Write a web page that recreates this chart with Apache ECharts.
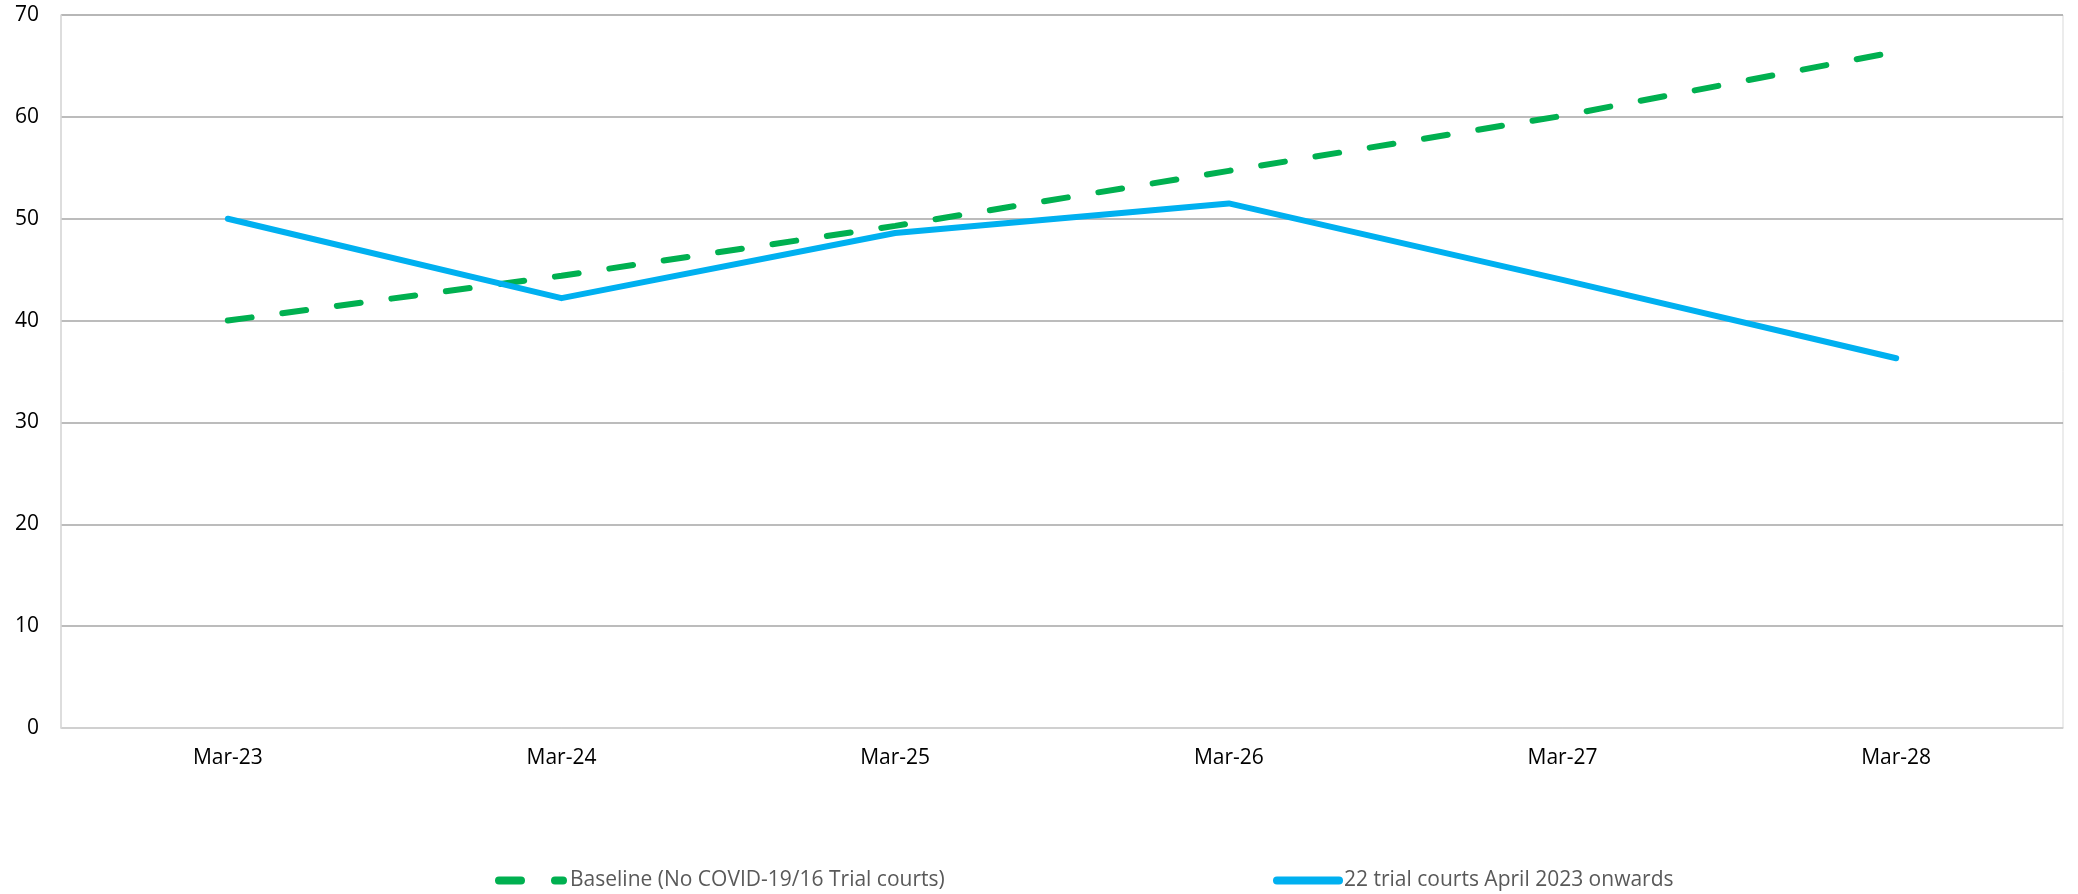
<!DOCTYPE html>
<html>
<head>
<meta charset="utf-8">
<script src="https://cdn.jsdelivr.net/npm/echarts@6/dist/echarts.min.js"></script>
<style>
html,body{margin:0;padding:0;background:#fff;}
#main{width:2078px;height:894px;}
</style>
</head>
<body>
<div id="main"></div>
<script>
const categories = ['Mar-23','Mar-24','Mar-25','Mar-26','Mar-27','Mar-28'];
const baselineName = 'Baseline (No COVID-19/16 Trial courts)';
const trialName = '22 trial courts April 2023 onwards';
const baselineValues = [40.0, 44.4, 49.3, 54.7, 60.1, 66.4];
const trialValues = [50.0, 42.2, 48.6, 51.5, 44.0, 36.3];
const yTicks = {min: 0, max: 70, interval: 10};

const FONT = '"Open Sans", "Liberation Sans", sans-serif';
const dashIcon = 'path://M4,0 L26,0 A4,4 0 0 1 26,8 L4,8 A4,4 0 0 1 4,0 Z M60,0 L68,0 A4,4 0 0 1 68,8 L60,8 A4,4 0 0 1 60,0 Z';
const solidIcon = 'path://M4,0 L66,0 A4,4 0 0 1 66,8 L4,8 A4,4 0 0 1 4,0 Z';
const chart = echarts.init(document.getElementById('main'), null, {renderer: 'canvas'});
chart.setOption({
  animation: false,
  backgroundColor: '#ffffff',
  grid: {left: 61, right: 15, top: 15, bottom: 166, show: true, borderColor: '#d9d9d9', borderWidth: 1},
  legend: [
    {data: [{name: baselineName, icon: dashIcon}], left: 490, top: 865, itemWidth: 72, itemHeight: 8, itemGap: 0,
     textStyle: {color: '#595959', fontSize: 21, fontFamily: FONT, padding: [0,0,0,-2]}},
    {data: [{name: trialName, icon: solidIcon}], left: 1268, top: 865, itemWidth: 70, itemHeight: 8, itemGap: 0,
     textStyle: {color: '#595959', fontSize: 21, fontFamily: FONT, padding: [0,0,0,-4]}}
  ],
  xAxis: {
    type: 'category', data: categories, boundaryGap: true,
    axisLine: {show: true, lineStyle: {color: '#d9d9d9', width: 1.5}},
    axisTick: {show: false},
    axisLabel: {color: '#000', fontSize: 21, fontFamily: FONT, margin: 20}
  },
  yAxis: {
    type: 'value', min: yTicks.min, max: yTicks.max, interval: yTicks.interval,
    axisLine: {show: true, lineStyle: {color: '#d9d9d9', width: 1.5}},
    axisTick: {show: false},
    axisLabel: {color: '#000', fontSize: 21, fontFamily: FONT, margin: 22},
    splitLine: {show: true, lineStyle: {color: '#a6a6a6', width: 1.5}}
  },
  series: [
    {name: baselineName, type: 'line', data: baselineValues, symbol: 'none',
     color: '#00B050',
     lineStyle: {color: '#00B050', width: 6, type: [24, 31], cap: 'round'}},
    {name: trialName, type: 'line', data: trialValues, symbol: 'none',
     color: '#00B0F0',
     lineStyle: {color: '#00B0F0', width: 6, cap: 'round', join: 'round'}}
  ]
});
</script>
</body>
</html>
